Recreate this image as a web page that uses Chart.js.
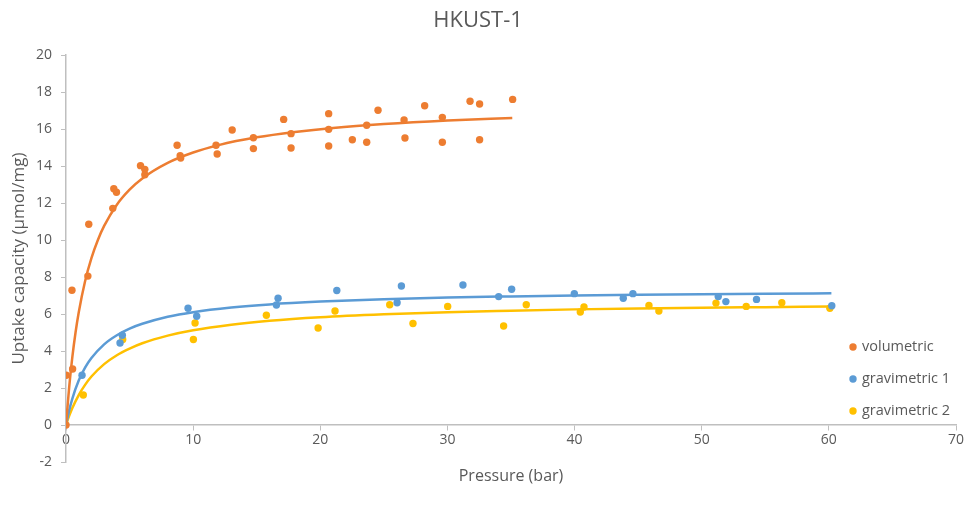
<!DOCTYPE html>
<html>
<head>
<meta charset="utf-8">
<script src="https://cdn.jsdelivr.net/npm/chart.js@4/dist/chart.umd.min.js"></script>
<style>
  html, body { margin: 0; padding: 0; background: #ffffff; }
  #wrap { width: 969px; height: 506px; position: relative; }
</style>
</head>
<body>
<div id="wrap"><canvas id="chart"></canvas></div>
<script>
// Measured uptake (µmol/mg) against pressure (bar)
const volPressure = [0, 0.02, 0.47, 0.52, 1.72, 1.79, 3.68, 3.76, 3.97, 5.86, 6.2, 6.2, 8.74, 8.98, 9.02, 11.8, 11.89, 13.07, 14.74, 14.74, 17.12, 17.7, 17.7, 20.66, 20.66, 20.66, 22.52, 23.65, 23.65, 24.54, 26.59, 26.66, 28.21, 29.6, 29.6, 31.78, 32.53, 32.53, 35.13];
const volUptake   = [0, 2.69, 7.28, 3.03, 8.05, 10.85, 11.71, 12.77, 12.58, 14.02, 13.82, 13.53, 15.12, 14.56, 14.43, 15.12, 14.65, 15.95, 15.53, 14.94, 16.52, 15.75, 14.97, 16.83, 15.98, 15.08, 15.42, 16.2, 15.28, 17.01, 16.49, 15.51, 17.26, 16.63, 15.28, 17.5, 17.35, 15.42, 17.6];

const grav1Pressure = [1.26, 4.25, 4.43, 9.6, 10.28, 16.55, 16.68, 21.3, 26.04, 26.38, 31.22, 34.03, 35.05, 39.98, 43.83, 44.59, 51.3, 51.9, 54.31, 60.23];
const grav1Uptake   = [2.69, 4.43, 4.85, 6.31, 5.88, 6.49, 6.85, 7.27, 6.61, 7.51, 7.57, 6.94, 7.34, 7.1, 6.85, 7.1, 6.94, 6.67, 6.79, 6.45];

const grav2Pressure = [1.36, 4.46, 10.02, 10.15, 15.76, 19.83, 21.16, 25.46, 27.29, 30.02, 34.42, 36.2, 40.45, 40.74, 45.85, 46.63, 51.12, 53.5, 56.3, 60.08];
const grav2Uptake   = [1.62, 4.62, 4.62, 5.51, 5.93, 5.24, 6.16, 6.5, 5.49, 6.41, 5.35, 6.5, 6.11, 6.38, 6.46, 6.16, 6.59, 6.41, 6.61, 6.31];

// Trend lines through each series
const volFitPressure = [0, 0.25, 0.5, 0.75, 1, 1.5, 2, 2.5, 3, 4, 5, 6, 8, 10, 12, 15, 18, 21, 25, 30, 35.1];
const volFitUptake   = [0, 2.05, 3.68, 5.0, 6.08, 7.77, 9.02, 9.99, 10.76, 11.91, 12.72, 13.33, 14.17, 14.73, 15.13, 15.55, 15.84, 16.06, 16.27, 16.46, 16.6];

const grav1FitPressure = [0, 0.25, 0.5, 1, 1.5, 2, 3, 4, 5, 6, 8, 10, 13, 16, 20, 25, 30, 35, 40, 45, 50, 55, 60.2];
const grav1FitUptake   = [0, 0.79, 1.43, 2.40, 3.10, 3.62, 4.36, 4.85, 5.21, 5.47, 5.85, 6.10, 6.35, 6.52, 6.67, 6.80, 6.89, 6.95, 7.00, 7.04, 7.07, 7.09, 7.12];

const grav2FitPressure = [0, 0.25, 0.5, 1, 1.5, 2, 3, 4, 5, 6, 8, 10, 13, 16, 20, 25, 30, 35, 40, 45, 50, 55, 60.1];
const grav2FitUptake   = [0, 0.49, 0.92, 1.62, 2.17, 2.62, 3.29, 3.77, 4.13, 4.42, 4.83, 5.12, 5.42, 5.63, 5.82, 5.98, 6.10, 6.18, 6.25, 6.30, 6.34, 6.37, 6.40];

const seriesNames = ['volumetric', 'gravimetric 1', 'gravimetric 2'];
const seriesColors = ['#ED7D31', '#5B9BD5', '#FFC000'];

const xTicks = [0, 10, 20, 30, 40, 50, 60, 70];
const yTicks = [-2, 0, 2, 4, 6, 8, 10, 12, 14, 16, 18, 20];

const FONT = '"Open Sans", "Liberation Sans", sans-serif';
const TEXT = '#595959';
const AXIS = '#BFBFBF';

const pairs = (xs, ys) => xs.map((x, i) => ({ x: x, y: ys[i] }));

const pointSet = (i, xs, ys) => ({
  label: seriesNames[i],
  data: pairs(xs, ys),
  showLine: false,
  pointRadius: 3.7,
  pointHoverRadius: 3.7,
  pointBorderWidth: 0,
  pointBackgroundColor: seriesColors[i],
  borderColor: seriesColors[i],
  backgroundColor: seriesColors[i]
});

const curveSet = (i, xs, ys) => ({
  label: seriesNames[i] + ' fit',
  data: pairs(xs, ys),
  showLine: true,
  pointRadius: 0,
  borderWidth: 2.5,
  borderColor: seriesColors[i],
  backgroundColor: seriesColors[i],
  cubicInterpolationMode: 'monotone',
  fill: false
});

// Legend drawn at the lower right, over the plot
const sideLegend = {
  id: 'sideLegend',
  afterDraw(chart) {
    const ctx = chart.ctx;
    ctx.save();
    ctx.font = '14.5px ' + FONT;
    ctx.textBaseline = 'middle';
    ctx.textAlign = 'left';
    const x0 = 853, ys = [347, 379, 411];
    seriesNames.forEach((name, i) => {
      ctx.fillStyle = seriesColors[i];
      ctx.beginPath();
      ctx.arc(x0, ys[i], 3.7, 0, Math.PI * 2);
      ctx.fill();
      ctx.fillStyle = TEXT;
      ctx.fillText(name, x0 + 9, ys[i]);
    });
    ctx.restore();
  }
};

new Chart(document.getElementById('chart'), {
  type: 'scatter',
  data: {
    datasets: [
      pointSet(0, volPressure, volUptake),
      pointSet(1, grav1Pressure, grav1Uptake),
      pointSet(2, grav2Pressure, grav2Uptake),
      curveSet(0, volFitPressure, volFitUptake),
      curveSet(1, grav1FitPressure, grav1FitUptake),
      curveSet(2, grav2FitPressure, grav2FitUptake)
    ]
  },
  options: {
    responsive: true,
    maintainAspectRatio: false,
    animation: false,
    layout: { padding: { left: 0, right: 13, top: 0, bottom: 44 } },
    plugins: {
      legend: { display: false },
      tooltip: { enabled: false },
      title: {
        display: true,
        text: 'HKUST-1',
        color: TEXT,
        font: { family: FONT, size: 22, weight: 'normal' },
        padding: { top: 8, bottom: 20.6 }
      }
    },
    scales: {
      x: {
        type: 'linear',
        position: { y: 0 },
        min: 0,
        max: 70,
        afterBuildTicks: (s) => { s.ticks = xTicks.map(v => ({ value: v })); },
        grid: { display: true, drawOnChartArea: false, drawTicks: true, tickLength: 5, color: AXIS, lineWidth: 1 },
        border: { display: true, color: AXIS, width: 1.5 },
        ticks: { color: TEXT, font: { family: FONT, size: 14 }, padding: 2, maxRotation: 0 },
        title: {
          display: true,
          text: 'Pressure (bar)',
          color: TEXT,
          font: { family: FONT, size: 16 },
          padding: { top: 16, bottom: 4 }
        }
      },
      y: {
        type: 'linear',
        position: 'left',
        min: -2,
        max: 20,
        afterBuildTicks: (s) => { s.ticks = yTicks.map(v => ({ value: v })); },
        afterFit: (s) => { s.width = 66; },
        grid: { display: true, drawOnChartArea: false, drawTicks: true, tickLength: 5, color: AXIS, lineWidth: 1 },
        border: { display: true, color: AXIS, width: 1.5 },
        ticks: { color: TEXT, font: { family: FONT, size: 14 }, padding: 9 },
        title: {
          display: true,
          text: 'Uptake capacity (µmol/mg)',
          color: TEXT,
          font: { family: FONT, size: 17 },
          padding: { top: 9, bottom: 0 }
        }
      }
    }
  },
  plugins: [sideLegend]
});
</script>
</body>
</html>
